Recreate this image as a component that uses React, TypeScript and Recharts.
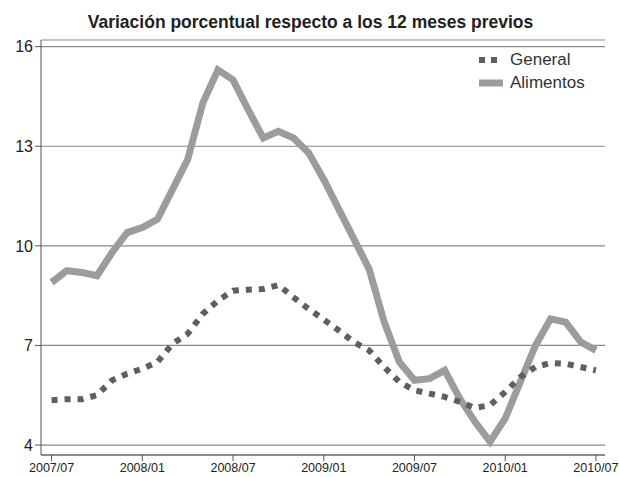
import React from 'react';
import { LineChart, Line, XAxis, YAxis, CartesianGrid } from 'recharts';

const monthLabels = [
  '2007/07','2007/08','2007/09','2007/10','2007/11','2007/12',
  '2008/01','2008/02','2008/03','2008/04','2008/05','2008/06',
  '2008/07','2008/08','2008/09','2008/10','2008/11','2008/12',
  '2009/01','2009/02','2009/03','2009/04','2009/05','2009/06',
  '2009/07','2009/08','2009/09','2009/10','2009/11','2009/12',
  '2010/01','2010/02','2010/03','2010/04','2010/05','2010/06',
  '2010/07',
];

const generalValues = [
  5.35, 5.38, 5.38, 5.5, 5.95, 6.15,
  6.3, 6.5, 7.05, 7.35, 7.95, 8.35,
  8.65, 8.68, 8.7, 8.82, 8.45, 8.1,
  7.78, 7.45, 7.1, 6.85, 6.35, 5.9,
  5.65, 5.55, 5.45, 5.3, 5.12, 5.2,
  5.6, 6.05, 6.35, 6.47, 6.45, 6.35,
  6.25,
];

const alimentosValues = [
  8.9, 9.25, 9.2, 9.1, 9.8, 10.4,
  10.55, 10.8, 11.7, 12.6, 14.3, 15.3,
  15.0, 14.1, 13.25, 13.45, 13.25, 12.8,
  12.0, 11.1, 10.2, 9.3, 7.7, 6.5,
  5.95, 6.0, 6.25, 5.4, 4.7, 4.1,
  4.8, 5.9, 7.0, 7.8, 7.7, 7.1,
  6.85,
];

const xTickLabels = ['2007/07', '2008/01', '2008/07', '2009/01', '2009/07', '2010/01', '2010/07'];
const yTicks = [4, 7, 10, 13, 16];

const seriesNames = { general: 'General', alimentos: 'Alimentos' };
const title = 'Variación porcentual respecto a los 12 meses previos';

const data = monthLabels.map((m, i) => ({
  idx: i,
  month: m,
  general: generalValues[i],
  alimentos: alimentosValues[i],
}));

const xTickIdx = xTickLabels.map((l) => monthLabels.indexOf(l));

const FONT = 'Liberation Sans, Arial, sans-serif';

export default function App() {
  return (
    <div style={{ position: 'absolute', left: 0, top: 0, width: 619, height: 477, background: '#fff', fontFamily: FONT }}>
      <div
        style={{
          position: 'absolute',
          left: 0,
          width: 621,
          top: 12,
          textAlign: 'center',
          fontSize: 17.5,
          fontWeight: 'bold',
          color: '#222',
          lineHeight: '21px',
        }}
      >
        {title}
      </div>
      <LineChart
        width={619}
        height={477}
        data={data}
        margin={{ top: 40, right: 14, left: 0, bottom: 0 }}
      >
        <CartesianGrid vertical={false} stroke="#8a8a8a" strokeWidth={1.2} />
        <XAxis
          dataKey="idx"
          type="number"
          domain={[-0.7, 36.6]}
          ticks={xTickIdx}
          tickFormatter={(v: number) => monthLabels[v]}
          height={22}
          stroke="#555"
          tickSize={6}
          tick={{ fill: '#222', fontSize: 12.5, fontFamily: FONT }}
          interval={0}
          allowDataOverflow
        />
        <YAxis
          type="number"
          domain={[3.7, 16.2]}
          ticks={yTicks}
          width={41}
          stroke="#555"
          tickSize={6}
          tick={{ fill: '#222', fontSize: 16, fontFamily: FONT }}
          interval={0}
          allowDataOverflow
        />
        <Line
          type="linear"
          dataKey="alimentos"
          name={seriesNames.alimentos}
          stroke="#9c9c9c"
          strokeWidth={7}
          dot={false}
          isAnimationActive={false}
        />
        <Line
          type="linear"
          dataKey="general"
          name={seriesNames.general}
          stroke="#5f5f5f"
          strokeWidth={6}
          strokeDasharray="6 7"
          dot={false}
          isAnimationActive={false}
        />
      </LineChart>
      <div style={{ position: 'absolute', left: 478, top: 48, fontSize: 17, color: '#333', lineHeight: '23px' }}>
        <div style={{ display: 'flex', alignItems: 'center' }}>
          <svg width={30} height={10} style={{ marginRight: 2 }}>
            <rect x={1} y={2} width={6} height={6} fill="#5f5f5f" />
            <rect x={13} y={2} width={6} height={6} fill="#5f5f5f" />
          </svg>
          <span>{seriesNames.general}</span>
        </div>
        <div style={{ display: 'flex', alignItems: 'center' }}>
          <svg width={30} height={10} style={{ marginRight: 2 }}>
            <rect x={1} y={1.5} width={24} height={7} fill="#9c9c9c" />
          </svg>
          <span>{seriesNames.alimentos}</span>
        </div>
      </div>
    </div>
  );
}
